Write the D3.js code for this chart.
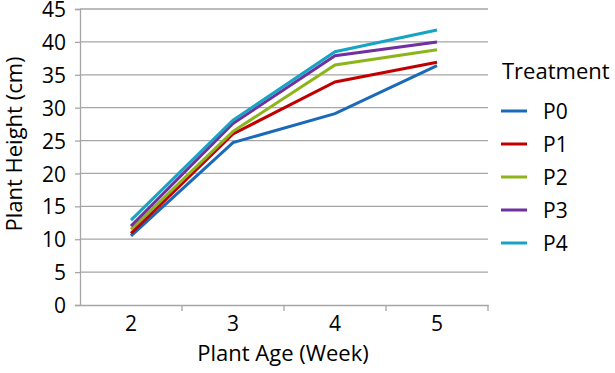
<!DOCTYPE html>
<html>
<head>
<meta charset="utf-8">
<script src="https://cdn.jsdelivr.net/npm/d3@7"></script>
<style>
  body { margin: 0; background: #fff; }
  text { font-family: "Open Sans", sans-serif; fill: #000; }
</style>
</head>
<body>
<svg width="615" height="373"></svg>
<script>
// plant age (weeks) and treatments
var weeks = ["2", "3", "4", "5"];
var treatments = ["P0", "P1", "P2", "P3", "P4"];
var p0 = [10.5, 24.7, 29.1, 36.4];
var p1 = [10.9, 26.0, 33.9, 36.9];
var p2 = [11.5, 26.4, 36.5, 38.8];
var p3 = [12.0, 27.6, 37.9, 40.0];
var p4 = [12.9, 28.1, 38.5, 41.8];
var yTicks = [0, 5, 10, 15, 20, 25, 30, 35, 40, 45];
var colors = ["#1a6ab8", "#c00000", "#8db51a", "#7030a0", "#18a3c4"];

var seriesValues = [p0, p1, p2, p3, p4];
var series = treatments.map(function(t, i) {
  return { id: t, values: weeks.map(function(w, j) { return { week: w, value: seriesValues[i][j] }; }) };
});

var svg = d3.select("svg"),
  margin = {top: 9, right: 127, bottom: 68, left: 80},
  width = 615 - margin.left - margin.right,
  height = 373 - margin.top - margin.bottom,
  g = svg.append("g").attr("transform", "translate(" + margin.left + "," + margin.top + ")");

var x = d3.scaleBand().domain(weeks).range([0, width]),
  y = d3.scaleLinear().domain([0, 45]).range([height, 0]),
  z = d3.scaleOrdinal().domain(treatments).range(colors);

var gridColor = "#a6a6a6";

// gridlines
g.selectAll("line.grid")
  .data(yTicks.filter(function(d) { return d > 0; }))
  .enter().append("line")
  .attr("class", "grid")
  .attr("x1", 0).attr("x2", width)
  .attr("y1", function(d) { return y(d); })
  .attr("y2", function(d) { return y(d); })
  .attr("stroke", gridColor)
  .attr("stroke-width", 1.3);

// y axis
var yAxis = g.append("g")
  .call(d3.axisLeft(y).tickValues(yTicks).tickSize(5).tickPadding(9));
yAxis.selectAll("text").style("font-size", "21px").attr("dy", "0.36em");

// x axis with ticks on band edges
var xAxis = g.append("g")
  .attr("transform", "translate(0," + height + ")")
  .call(d3.axisBottom(x).tickSize(0).tickPadding(11));
xAxis.selectAll("text").style("font-size", "21px");
xAxis.selectAll("g.tick").append("line")
  .attr("x1", x.bandwidth() / 2).attr("x2", x.bandwidth() / 2)
  .attr("y1", 0).attr("y2", 6)
  .attr("stroke", gridColor)
  .attr("stroke-width", 1.3);

svg.selectAll(".domain").attr("stroke", gridColor).attr("stroke-width", 1.3);
svg.selectAll(".tick line").attr("stroke", gridColor).attr("stroke-width", 1.3);

// lines
var line = d3.line()
  .x(function(d) { return x(d.week) + x.bandwidth() / 2; })
  .y(function(d) { return y(d.value); });

g.selectAll("path.line")
  .data(series)
  .enter().append("path")
  .attr("class", "line")
  .attr("d", function(d) { return line(d.values); })
  .attr("fill", "none")
  .attr("stroke-width", 3)
  .attr("stroke", function(d) { return z(d.id); });

// axis titles
svg.append("text")
  .attr("x", 283)
  .attr("y", 361)
  .attr("text-anchor", "middle")
  .style("font-size", "22px")
  .text("Plant Age (Week)");

svg.append("text")
  .attr("transform", "translate(22,144) rotate(-90)")
  .attr("text-anchor", "middle")
  .style("font-size", "22px")
  .text("Plant Height (cm)");

// legend
var legend = svg.append("g").attr("transform", "translate(500,0)");
legend.append("text")
  .attr("x", 2).attr("y", 79)
  .style("font-size", "22px")
  .text("Treatment");

var item = legend.selectAll("g.item")
  .data(treatments)
  .enter().append("g")
  .attr("class", "item")
  .attr("transform", function(d, i) { return "translate(0," + (111 + i * 33) + ")"; });
item.append("line")
  .attr("x1", 1).attr("x2", 27)
  .attr("y1", 0).attr("y2", 0)
  .attr("stroke-width", 3)
  .attr("stroke", function(d) { return z(d); });
item.append("text")
  .attr("x", 43).attr("y", 8)
  .style("font-size", "21px")
  .text(function(d) { return d; });
</script>
</body>
</html>
